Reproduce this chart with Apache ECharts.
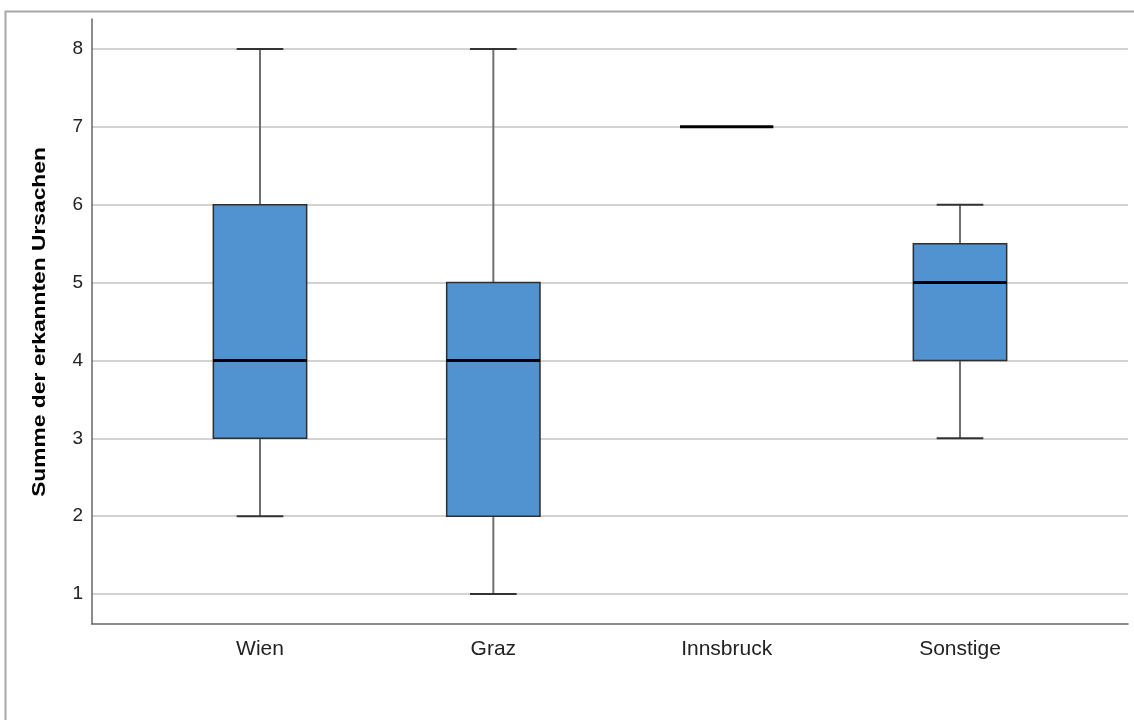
<!DOCTYPE html>
<html>
<head>
<meta charset="utf-8">
<script src="https://cdn.jsdelivr.net/npm/echarts@6/dist/echarts.min.js"></script>
<style>
  html, body { margin: 0; padding: 0; background: #fff; }
  #chart { width: 1134px; height: 720px; }
</style>
</head>
<body>
<div id="chart"></div>
<script>
// Boxplot summary per location
const categories = ['Wien', 'Graz', 'Innsbruck', 'Sonstige'];
const whiskerLow = [2, 1, 7, 3];
const q1 = [3, 2, 7, 4];
const median = [4, 4, 7, 5];
const q3 = [6, 5, 7, 5.5];
const whiskerHigh = [8, 8, 7, 6];
const yTicks = [1, 2, 3, 4, 5, 6, 7, 8];
const yTitle = 'Summe der erkannten Ursachen';
const catPositions = categories.map((_, i) => i + 1);

const rows = categories.map((c, i) => [i + 1, whiskerLow[i], q1[i], median[i], q3[i], whiskerHigh[i]]);

const FONT = 'Liberation Sans, Arial, sans-serif';
const BOX_W = 0.4;   // box width in category units
const CAP_W = 0.2;   // whisker cap width in category units

function renderBox(params, api) {
  const x = api.value(0);
  const lo = api.value(1), a = api.value(2), m = api.value(3), b = api.value(4), hi = api.value(5);
  const pLeft = api.coord([x - BOX_W / 2, 0])[0];
  const pRight = api.coord([x + BOX_W / 2, 0])[0];
  const cLeft = api.coord([x - CAP_W / 2, 0])[0];
  const cRight = api.coord([x + CAP_W / 2, 0])[0];
  const cx = api.coord([x, 0])[0];
  const yLo = api.coord([x, lo])[1];
  const yA = api.coord([x, a])[1];
  const yM = api.coord([x, m])[1];
  const yB = api.coord([x, b])[1];
  const yHi = api.coord([x, hi])[1];
  const children = [];
  const whiskerStyle = { stroke: '#707070', lineWidth: 2 };
  const capStyle = { stroke: '#333333', lineWidth: 2 };
  if (hi > b) {
    children.push({ type: 'line', shape: { x1: cx, y1: yB, x2: cx, y2: yHi }, style: whiskerStyle });
    children.push({ type: 'line', shape: { x1: cLeft, y1: yHi, x2: cRight, y2: yHi }, style: capStyle });
  }
  if (lo < a) {
    children.push({ type: 'line', shape: { x1: cx, y1: yA, x2: cx, y2: yLo }, style: whiskerStyle });
    children.push({ type: 'line', shape: { x1: cLeft, y1: yLo, x2: cRight, y2: yLo }, style: capStyle });
  }
  if (b > a) {
    children.push({
      type: 'rect',
      shape: { x: pLeft, y: yB, width: pRight - pLeft, height: yA - yB },
      style: { fill: '#5193d1', stroke: '#2e2e2e', lineWidth: 1.5 }
    });
  }
  children.push({ type: 'line', shape: { x1: pLeft, y1: yM, x2: pRight, y2: yM }, style: { stroke: '#000', lineWidth: 3 } });
  return { type: 'group', children };
}

const chart = echarts.init(document.getElementById('chart'), null, { renderer: 'canvas' });
chart.setOption({
  animation: false,
  backgroundColor: '#fff',
  graphic: [
    {
      type: 'rect', left: 3, top: 9, z: -10, silent: true,
      shape: { width: 1200, height: 800 },
      style: { fill: 'none', stroke: '#a8a8a8', lineWidth: 2 }
    },
    {
      // vertical axis title, stretched slightly along its reading direction
      type: 'text', x: 40, y: 322, rotation: Math.PI / 2, scaleX: 1.2, scaleY: 1, silent: true,
      style: {
        text: yTitle, fill: '#000', font: 'bold 19px ' + FONT,
        align: 'center', verticalAlign: 'middle'
      }
    }
  ],
  grid: { left: 92, right: 6, top: 19, bottom: 96 },
  xAxis: {
    type: 'value', min: 0.28, max: 4.72,
    axisLine: { show: true, onZero: false, lineStyle: { color: '#666', width: 1.5 } },
    axisTick: { show: false, customValues: catPositions },
    splitLine: { show: false },
    axisLabel: {
      customValues: catPositions,
      formatter: v => categories[Math.round(v) - 1] || '',
      color: '#222', fontSize: 21, fontFamily: FONT, margin: 15
    }
  },
  yAxis: {
    type: 'value', min: 0.615, max: 8.385,
    axisLine: { show: true, onZero: false, lineStyle: { color: '#666', width: 1.5 } },
    axisTick: { show: false, customValues: yTicks },
    axisLabel: { customValues: yTicks, color: '#222', fontSize: 19, fontFamily: FONT, margin: 9, padding: [4, 0, 0, 0] },
    splitLine: { show: true, lineStyle: { color: '#d2d2d2', width: 2 } }
  },
  series: [{
    type: 'custom',
    renderItem: renderBox,
    encode: { x: 0, y: [1, 2, 3, 4, 5] },
    data: rows,
    z: 5
  }]
});
</script>
</body>
</html>
